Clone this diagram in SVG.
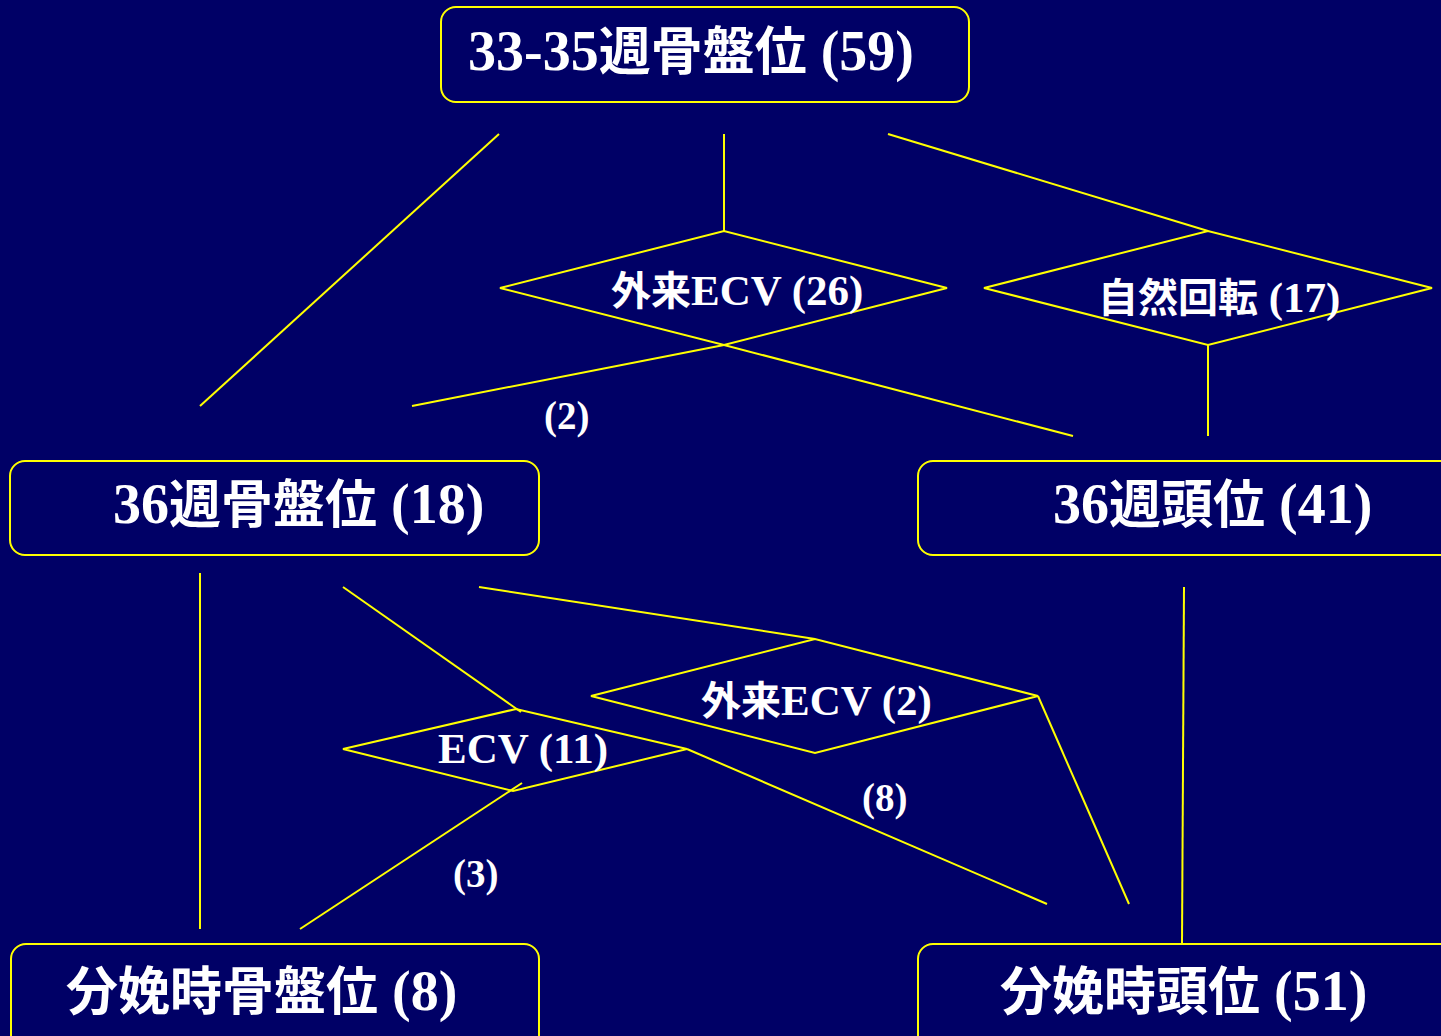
<svg xmlns="http://www.w3.org/2000/svg" width="1441" height="1036" viewBox="0 0 1441 1036">
<style>
.bg{fill:#000066}
.box{fill:#000066;stroke:#ffff00;stroke-width:2}
.dia{fill:none;stroke:#ffff00;stroke-width:2}
.ln{stroke:#ffff00;stroke-width:2;fill:none}
text{fill:#ffffff;font-family:"Liberation Serif","Noto Sans CJK JP",serif;font-weight:bold}
.big{font-size:52px}
.big .l{font-size:56px}
.mid{font-size:40px}
.mid .l{font-size:43px}
.sm{font-size:39px}
</style>
<rect class="bg" x="0" y="0" width="1441" height="1036"/>
<g id="connectors">
<line class="ln" x1="499" y1="134" x2="200" y2="406"/>
<line class="ln" x1="724" y1="134" x2="724" y2="231"/>
<line class="ln" x1="888" y1="134" x2="1208" y2="231"/>
<line class="ln" x1="724" y1="345" x2="412" y2="406"/>
<line class="ln" x1="724" y1="345" x2="1073" y2="436"/>
<line class="ln" x1="1208" y1="345" x2="1208" y2="436"/>
<line class="ln" x1="200" y1="573" x2="200" y2="929"/>
<line class="ln" x1="343" y1="587" x2="521" y2="712"/>
<line class="ln" x1="479" y1="587" x2="815" y2="639"/>
<line class="ln" x1="1038" y1="696" x2="1129" y2="904"/>
<line class="ln" x1="687" y1="749" x2="1047" y2="904"/>
<line class="ln" x1="522" y1="783" x2="300" y2="929"/>
<line class="ln" x1="1184" y1="587" x2="1182" y2="944"/>
</g>
<g id="n-top">
<rect class="box" x="441" y="7" width="528" height="95" rx="15"/>
<text class="big" x="468" y="70"><tspan class="l">33-35</tspan>週骨盤位<tspan class="l"> (59)</tspan></text>
</g>
<g id="n-ecv26">
<polygon class="dia" points="500,288 724,231 947,288 724,345"/>
<text class="mid" x="611" y="305">外来<tspan class="l">ECV (26)</tspan></text>
</g>
<g id="n-spont">
<polygon class="dia" points="984,288 1208,231 1432,288 1208,345"/>
<text class="mid" x="1098" y="312">自然回転<tspan class="l"> (17)</tspan></text>
</g>
<g id="n-breech36">
<rect class="box" x="10" y="461" width="529" height="94" rx="15"/>
<text class="big" x="113" y="523"><tspan class="l">36</tspan>週骨盤位<tspan class="l"> (18)</tspan></text>
</g>
<g id="n-head36">
<rect class="box" x="918" y="461" width="540" height="94" rx="15"/>
<text class="big" x="1053" y="523"><tspan class="l">36</tspan>週頭位<tspan class="l"> (41)</tspan></text>
</g>
<g id="n-ecv2">
<polygon class="dia" points="591,696 815,639 1038,696 815,753"/>
<text class="mid" x="701" y="715">外来<tspan class="l">ECV (2)</tspan></text>
</g>
<g id="n-ecv11">
<polygon class="dia" points="343,749 516,709 687,749 513,791"/>
<text class="mid" x="438" y="763"><tspan class="l">ECV (11)</tspan></text>
</g>
<g id="labels">
<text class="sm" x="544" y="429">(2)</text>
<text class="sm" x="453" y="887">(3)</text>
<text class="sm" x="862" y="811">(8)</text>
</g>
<g id="n-breechbirth">
<rect class="box" x="11" y="944" width="528" height="120" rx="15"/>
<text class="big" x="66" y="1010">分娩時骨盤位<tspan class="l"> (8)</tspan></text>
</g>
<g id="n-headbirth">
<rect class="box" x="918" y="944" width="540" height="120" rx="15"/>
<text class="big" x="1000" y="1010">分娩時頭位<tspan class="l"> (51)</tspan></text>
</g>
</svg>
